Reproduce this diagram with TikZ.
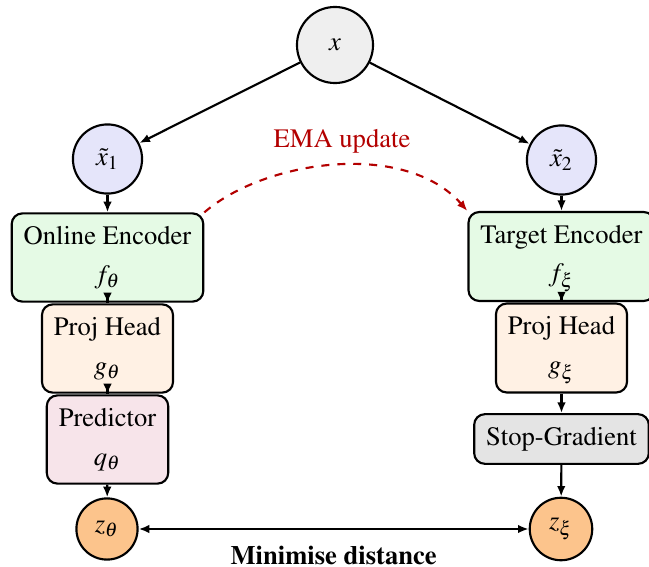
\documentclass[tikz,border=0pt]{standalone}
\usepackage[T1]{fontenc}
\usepackage{mathptmx}
\usetikzlibrary{arrows.meta}

\definecolor{inputgray}{HTML}{EFEFEF}
\definecolor{viewblue}{HTML}{E5E5FA}
\definecolor{encgreen}{HTML}{E5FAE5}
\definecolor{projorange}{HTML}{FFF1E4}
\definecolor{predpink}{HTML}{F7E4EA}
\definecolor{zorange}{HTML}{FCC48C}
\definecolor{sggray}{HTML}{E4E4E4}
\definecolor{emared}{HTML}{B30000}

\begin{document}
\begin{tikzpicture}[x=0.376pt,y=-0.376pt,
  every node/.style={font=\fontsize{10}{12}\selectfont},
  circ/.style={circle,draw,thick,inner sep=0pt},
  blk/.style={draw,thick,rounded corners=4pt,align=center,inner xsep=4.5pt,minimum height=32pt},
  arr/.style={thick,-{Latex[length=4pt,width=3.2pt]}},
]
\useasboundingbox (0,0) rectangle (649,567);

% input and augmented views
\node[circ,fill=inputgray,minimum size=28.6pt] (x) at (335,45) {$x$};
\node[circ,fill=viewblue,minimum size=26pt] (x1) at (107.5,159) {$\tilde{x}_1$};
\node[circ,fill=viewblue,minimum size=26pt] (x2) at (561.5,160) {$\tilde{x}_2$};

% online branch
\node[blk,fill=encgreen] (on) at (107.5,257.5) {\strut Online Encoder\\[2.5pt]\strut$f_\theta$};
\node[blk,fill=projorange] (pj1) at (107.5,348.5) {\strut Proj Head\\[2.5pt]\strut$g_\theta$};
\node[blk,fill=predpink] (pred) at (107.5,439.5) {\strut Predictor\\[2.5pt]\strut$q_\theta$};
\node[circ,fill=zorange,minimum size=23pt] (z1) at (107,529) {$z_\theta$};

% target branch
\node[blk,fill=encgreen] (tg) at (561.5,256.5) {\strut Target Encoder\\[2.5pt]\strut$f_\xi$};
\node[blk,fill=projorange] (pj2) at (561.5,348) {\strut Proj Head\\[2.5pt]\strut$g_\xi$};
\node[blk,fill=sggray,minimum height=17.3pt] (sg) at (561.5,439) {\strut Stop-Gradient};
\node[circ,fill=zorange,minimum size=23.5pt] (z2) at (561,529) {$z_\xi$};

% connectors
\draw[arr] (x) -- (x1);
\draw[arr] (x) -- (x2);
\draw[arr] (x1) -- (on);
\draw[arr] (on) -- (pj1);
\draw[arr] (pj1) -- (pred);
\draw[arr] (pred) -- (z1);
\draw[arr] (x2) -- (tg);
\draw[arr] (tg) -- (pj2);
\draw[arr] (pj2) -- (sg);
\draw[arr] (sg) -- (z2);

% distance between the two embeddings
\draw[thick,{Latex[length=4pt,width=3.2pt]}-{Latex[length=4pt,width=3.2pt]}] (z1) -- node[below=2.6pt,font=\fontsize{10}{12}\selectfont\bfseries] (md) {Minimise distance} (z2);

% momentum update of the target encoder
\draw[emared,thick,dashed,-{Latex[length=4pt,width=3.2pt]}] (on.north east) .. controls (265,160) and (405,140) .. (tg.north west);
\node[text=emared] (ema) at (342,141) {EMA update};
\end{tikzpicture}
\end{document}
